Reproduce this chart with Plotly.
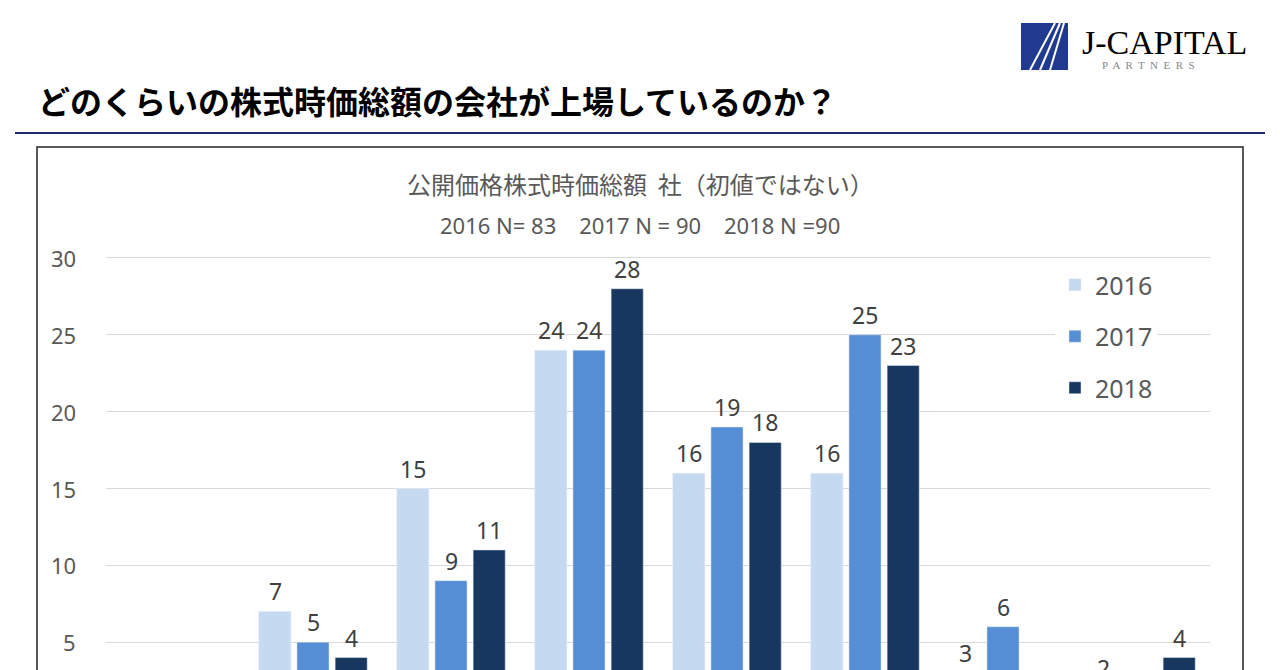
import plotly.graph_objects as go

categories = ["A", "B", "C", "D", "E", "F", "G", "H"]
v2016 = [0, 7, 15, 24, 16, 16, 3, 2]
v2017 = [1, 5, 9, 24, 19, 25, 6, 1]
v2018 = [1, 4, 11, 28, 18, 23, 1, 4]
years = ["2016", "2017", "2018"]
colors = ["#c5d9f1", "#558ed5", "#17375e"]

W, H = 1280, 740
def px(x): return x / W
def py(y): return 1 - y / H

fig = go.Figure()
for i, (name, vals, c) in enumerate(zip(years, [v2016, v2017, v2018], colors)):
    fig.add_trace(go.Bar(x=categories, y=vals, name=name, marker_color=c, legendgroup=name))
    for cat, v in zip(categories, vals):
        if v:
            fig.add_annotation(x=cat, y=v, xref="x", yref="y", text=str(v), showarrow=False,
                               xshift=(i - 1) * 38, yanchor="bottom", yshift=2,
                               font=dict(size=23, color="#404040"))

fig.update_layout(
    width=W, height=H, margin=dict(l=0, r=0, t=0, b=0),
    plot_bgcolor="white", paper_bgcolor="white",
    font=dict(family="Noto Sans", color="#595959"),
    barmode="group", bargap=0.17, bargroupgap=0.16,
    xaxis=dict(domain=[px(106), px(1210)], showticklabels=False, showgrid=False, zeroline=False),
    yaxis=dict(domain=[py(719), py(250)], range=[0, 30.52], tickvals=[5, 10, 15, 20, 25, 30],
               showgrid=True, gridcolor="#d9d9d9", zeroline=False, showticklabels=False),
    legend=dict(x=px(1055), y=py(262), xanchor="left", yanchor="top",
                font=dict(size=25, color="#595959"), tracegroupgap=16, itemwidth=30),
    showlegend=True,
)
for v in [5, 10, 15, 20, 25, 30]:
    fig.add_annotation(x=px(78), xref="paper", y=v, yref="y", text=str(v), showarrow=False,
                       xanchor="right", font=dict(size=22, color="#595959"))

fig.add_annotation(x=px(36), y=py(100), xref="paper", yref="paper", xanchor="left", yanchor="middle",
                   text="<b>どのくらいの株式時価総額の会社が上場しているのか？</b>", showarrow=False,
                   font=dict(family="Noto Sans CJK JP", size=32, color="black"))
fig.add_annotation(x=0.5, y=py(164), xref="paper", yref="paper", showarrow=False, yanchor="top",
                   text="公開価格株式時価総額  社（初値ではない）",
                   font=dict(family="Noto Sans CJK JP", size=24, color="#595959"))
fig.add_annotation(x=0.5, y=py(208), xref="paper", yref="paper", showarrow=False, yanchor="top",
                   text="2016 N= 83    2017 N = 90    2018 N =90", font=dict(size=22, color="#595959"))

fig.add_shape(type="line", xref="paper", yref="paper", x0=px(15), x1=px(1265), y0=py(133), y1=py(133),
              line=dict(color="#1f2a6b", width=2))
fig.add_shape(type="rect", xref="paper", yref="paper", x0=px(37), x1=px(1243), y0=py(147), y1=-0.05,
              line=dict(color="#222", width=1.5))
# logo
fig.add_shape(type="rect", xref="paper", yref="paper", x0=px(1021), x1=px(1068), y0=py(70), y1=py(23),
              fillcolor="#1f3a8f", line=dict(width=0))
for a, b in [(1030, 1055), (1040, 1060), (1050, 1064)]:
    fig.add_shape(type="line", xref="paper", yref="paper", x0=px(a), y0=py(70), x1=px(b), y1=py(23),
                  line=dict(color="white", width=2))
fig.add_annotation(x=px(1080), y=py(22), xref="paper", yref="paper", xanchor="left", yanchor="top",
                   showarrow=False, text="J-CAPITAL",
                   font=dict(family="Liberation Serif", size=34, color="black"))
fig.add_annotation(x=px(1100), y=py(57), xref="paper", yref="paper", xanchor="left", yanchor="top",
                   showarrow=False, text="P  A  R  T  N  E  R  S",
                   font=dict(family="Liberation Serif", size=11, color="#888"))

fig.write_html("out.html", config={"displayModeBar": False},
               post_script="document.body.style.margin='0';document.body.style.overflow='hidden';")
